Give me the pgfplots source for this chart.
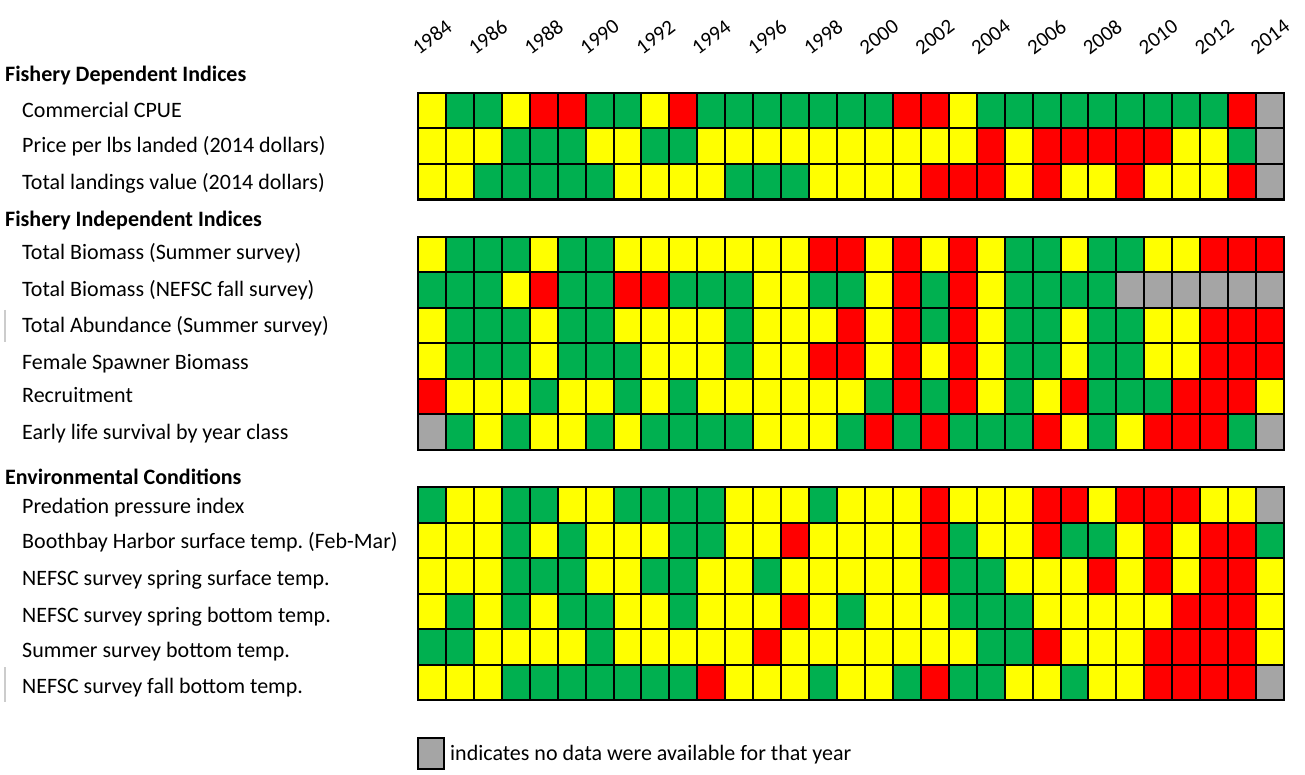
\documentclass[border=0pt]{standalone}
\usepackage{pgfplots}
\pgfplotsset{compat=1.18}
\usepackage{fontspec}
\setmainfont{Carlito}
\frenchspacing
\definecolor{cgray}{RGB}{165,165,165}
\pgfplotsset{
  hm/.style={
    scale only axis, width=866pt, xmin=1983.5, xmax=2014.5,
    y dir=reverse, anchor=north west, axis on top, clip=false,
    axis line style={black, line width=2.5pt},
    tick style={draw=none}, major tick length=0pt, minor tick length=0pt,
    xtick={1984,1986,...,2014}, xticklabels={},
    minor xtick={1984.5,1985.5,...,2013.5},
    xmajorgrids=false, ymajorgrids=false, xminorgrids=true, yminorgrids=true,
    minor grid style={black, line width=2pt},
    colormap={cat}{rgb255=(165,165,165) rgb255=(255,0,0) rgb255=(255,255,0) rgb255=(0,176,80)},
    colormap access=direct,
    point meta=explicit,
  },
  cells/.style={matrix plot, mesh/cols=31},
}
\begin{document}
\begin{tikzpicture}[x=1pt,y=1pt]
\useasboundingbox (0,0) rectangle (1305,774);
% ---------------- Fishery dependent ----------------
\begin{axis}[hm, at={(418pt,681pt)}, height=106.5pt, ymin=0.5, ymax=3.5,
  ytick={1,2,3}, yticklabels={}, minor ytick={1.5,2.5},
  xticklabels={1984,1986,1988,1990,1992,1994,1996,1998,2000,2002,2004,2006,2008,2010,2012,2014},
  xticklabel pos=upper,
  xticklabel style={font=\fontsize{21}{21}\selectfont, rotate=37, anchor=center, inner sep=0pt},
  xticklabel shift=56pt]
\addplot[cells] coordinates {
(1984,1)[2] (1985,1)[3] (1986,1)[3] (1987,1)[2] (1988,1)[1] (1989,1)[1] (1990,1)[3] (1991,1)[3] (1992,1)[2] (1993,1)[1] (1994,1)[3] (1995,1)[3] (1996,1)[3] (1997,1)[3] (1998,1)[3] (1999,1)[3] (2000,1)[3] (2001,1)[1] (2002,1)[1] (2003,1)[2] (2004,1)[3] (2005,1)[3] (2006,1)[3] (2007,1)[3] (2008,1)[3] (2009,1)[3] (2010,1)[3] (2011,1)[3] (2012,1)[3] (2013,1)[1] (2014,1)[0]
(1984,2)[2] (1985,2)[2] (1986,2)[2] (1987,2)[3] (1988,2)[3] (1989,2)[3] (1990,2)[2] (1991,2)[2] (1992,2)[3] (1993,2)[3] (1994,2)[2] (1995,2)[2] (1996,2)[2] (1997,2)[2] (1998,2)[2] (1999,2)[2] (2000,2)[2] (2001,2)[2] (2002,2)[2] (2003,2)[2] (2004,2)[1] (2005,2)[2] (2006,2)[1] (2007,2)[1] (2008,2)[1] (2009,2)[1] (2010,2)[1] (2011,2)[2] (2012,2)[2] (2013,2)[3] (2014,2)[0]
(1984,3)[2] (1985,3)[2] (1986,3)[3] (1987,3)[3] (1988,3)[3] (1989,3)[3] (1990,3)[3] (1991,3)[2] (1992,3)[2] (1993,3)[2] (1994,3)[2] (1995,3)[3] (1996,3)[3] (1997,3)[3] (1998,3)[2] (1999,3)[2] (2000,3)[2] (2001,3)[2] (2002,3)[1] (2003,3)[1] (2004,3)[1] (2005,3)[2] (2006,3)[1] (2007,3)[2] (2008,3)[2] (2009,3)[1] (2010,3)[2] (2011,3)[2] (2012,3)[2] (2013,3)[1] (2014,3)[0]
};
\end{axis}
% ---------------- Fishery independent ----------------
\begin{axis}[hm, at={(418pt,537pt)}, height=213pt, ymin=0.5, ymax=6.5,
  ytick={1,...,6}, yticklabels={}, minor ytick={1.5,2.5,3.5,4.5,5.5}]
\addplot[cells] coordinates {
(1984,1)[2] (1985,1)[3] (1986,1)[3] (1987,1)[3] (1988,1)[2] (1989,1)[3] (1990,1)[3] (1991,1)[2] (1992,1)[2] (1993,1)[2] (1994,1)[2] (1995,1)[2] (1996,1)[2] (1997,1)[2] (1998,1)[1] (1999,1)[1] (2000,1)[2] (2001,1)[1] (2002,1)[2] (2003,1)[1] (2004,1)[2] (2005,1)[3] (2006,1)[3] (2007,1)[2] (2008,1)[3] (2009,1)[3] (2010,1)[2] (2011,1)[2] (2012,1)[1] (2013,1)[1] (2014,1)[1]
(1984,2)[3] (1985,2)[3] (1986,2)[3] (1987,2)[2] (1988,2)[1] (1989,2)[3] (1990,2)[3] (1991,2)[1] (1992,2)[1] (1993,2)[3] (1994,2)[3] (1995,2)[3] (1996,2)[2] (1997,2)[2] (1998,2)[3] (1999,2)[3] (2000,2)[2] (2001,2)[1] (2002,2)[3] (2003,2)[1] (2004,2)[2] (2005,2)[3] (2006,2)[3] (2007,2)[3] (2008,2)[3] (2009,2)[0] (2010,2)[0] (2011,2)[0] (2012,2)[0] (2013,2)[0] (2014,2)[0]
(1984,3)[2] (1985,3)[3] (1986,3)[3] (1987,3)[3] (1988,3)[2] (1989,3)[3] (1990,3)[3] (1991,3)[2] (1992,3)[2] (1993,3)[2] (1994,3)[2] (1995,3)[3] (1996,3)[2] (1997,3)[2] (1998,3)[2] (1999,3)[1] (2000,3)[2] (2001,3)[1] (2002,3)[3] (2003,3)[1] (2004,3)[2] (2005,3)[3] (2006,3)[3] (2007,3)[2] (2008,3)[3] (2009,3)[3] (2010,3)[2] (2011,3)[2] (2012,3)[1] (2013,3)[1] (2014,3)[1]
(1984,4)[2] (1985,4)[3] (1986,4)[3] (1987,4)[3] (1988,4)[2] (1989,4)[3] (1990,4)[3] (1991,4)[3] (1992,4)[2] (1993,4)[2] (1994,4)[2] (1995,4)[3] (1996,4)[2] (1997,4)[2] (1998,4)[1] (1999,4)[1] (2000,4)[2] (2001,4)[1] (2002,4)[2] (2003,4)[1] (2004,4)[2] (2005,4)[3] (2006,4)[3] (2007,4)[2] (2008,4)[3] (2009,4)[3] (2010,4)[2] (2011,4)[2] (2012,4)[1] (2013,4)[1] (2014,4)[1]
(1984,5)[1] (1985,5)[2] (1986,5)[2] (1987,5)[2] (1988,5)[3] (1989,5)[2] (1990,5)[2] (1991,5)[3] (1992,5)[2] (1993,5)[3] (1994,5)[2] (1995,5)[2] (1996,5)[2] (1997,5)[2] (1998,5)[2] (1999,5)[2] (2000,5)[3] (2001,5)[1] (2002,5)[3] (2003,5)[1] (2004,5)[2] (2005,5)[3] (2006,5)[2] (2007,5)[1] (2008,5)[3] (2009,5)[3] (2010,5)[3] (2011,5)[1] (2012,5)[1] (2013,5)[1] (2014,5)[2]
(1984,6)[0] (1985,6)[3] (1986,6)[2] (1987,6)[3] (1988,6)[2] (1989,6)[2] (1990,6)[3] (1991,6)[2] (1992,6)[3] (1993,6)[3] (1994,6)[3] (1995,6)[3] (1996,6)[2] (1997,6)[2] (1998,6)[2] (1999,6)[3] (2000,6)[1] (2001,6)[3] (2002,6)[1] (2003,6)[3] (2004,6)[3] (2005,6)[3] (2006,6)[1] (2007,6)[2] (2008,6)[3] (2009,6)[2] (2010,6)[1] (2011,6)[1] (2012,6)[1] (2013,6)[3] (2014,6)[0]
};
\end{axis}
% ---------------- Environmental ----------------
\begin{axis}[hm, at={(418pt,287pt)}, height=213pt, ymin=0.5, ymax=6.5,
  ytick={1,...,6}, yticklabels={}, minor ytick={1.5,2.5,3.5,4.5,5.5}]
\addplot[cells] coordinates {
(1984,1)[3] (1985,1)[2] (1986,1)[2] (1987,1)[3] (1988,1)[3] (1989,1)[2] (1990,1)[2] (1991,1)[3] (1992,1)[3] (1993,1)[3] (1994,1)[3] (1995,1)[2] (1996,1)[2] (1997,1)[2] (1998,1)[3] (1999,1)[2] (2000,1)[2] (2001,1)[2] (2002,1)[1] (2003,1)[2] (2004,1)[2] (2005,1)[2] (2006,1)[1] (2007,1)[1] (2008,1)[2] (2009,1)[1] (2010,1)[1] (2011,1)[1] (2012,1)[2] (2013,1)[2] (2014,1)[0]
(1984,2)[2] (1985,2)[2] (1986,2)[2] (1987,2)[3] (1988,2)[2] (1989,2)[3] (1990,2)[2] (1991,2)[2] (1992,2)[2] (1993,2)[3] (1994,2)[3] (1995,2)[2] (1996,2)[2] (1997,2)[1] (1998,2)[2] (1999,2)[2] (2000,2)[2] (2001,2)[2] (2002,2)[1] (2003,2)[3] (2004,2)[2] (2005,2)[2] (2006,2)[1] (2007,2)[3] (2008,2)[3] (2009,2)[2] (2010,2)[1] (2011,2)[2] (2012,2)[1] (2013,2)[1] (2014,2)[3]
(1984,3)[2] (1985,3)[2] (1986,3)[2] (1987,3)[3] (1988,3)[3] (1989,3)[3] (1990,3)[2] (1991,3)[2] (1992,3)[3] (1993,3)[3] (1994,3)[2] (1995,3)[2] (1996,3)[3] (1997,3)[2] (1998,3)[2] (1999,3)[2] (2000,3)[2] (2001,3)[2] (2002,3)[1] (2003,3)[3] (2004,3)[3] (2005,3)[2] (2006,3)[2] (2007,3)[2] (2008,3)[1] (2009,3)[2] (2010,3)[1] (2011,3)[2] (2012,3)[1] (2013,3)[1] (2014,3)[2]
(1984,4)[2] (1985,4)[3] (1986,4)[2] (1987,4)[3] (1988,4)[2] (1989,4)[3] (1990,4)[3] (1991,4)[2] (1992,4)[2] (1993,4)[3] (1994,4)[2] (1995,4)[2] (1996,4)[2] (1997,4)[1] (1998,4)[2] (1999,4)[3] (2000,4)[2] (2001,4)[2] (2002,4)[2] (2003,4)[3] (2004,4)[3] (2005,4)[3] (2006,4)[2] (2007,4)[2] (2008,4)[2] (2009,4)[2] (2010,4)[2] (2011,4)[1] (2012,4)[1] (2013,4)[1] (2014,4)[2]
(1984,5)[3] (1985,5)[3] (1986,5)[2] (1987,5)[2] (1988,5)[2] (1989,5)[2] (1990,5)[3] (1991,5)[2] (1992,5)[2] (1993,5)[2] (1994,5)[2] (1995,5)[2] (1996,5)[1] (1997,5)[2] (1998,5)[2] (1999,5)[2] (2000,5)[2] (2001,5)[2] (2002,5)[2] (2003,5)[2] (2004,5)[3] (2005,5)[3] (2006,5)[1] (2007,5)[2] (2008,5)[2] (2009,5)[2] (2010,5)[1] (2011,5)[1] (2012,5)[1] (2013,5)[1] (2014,5)[2]
(1984,6)[2] (1985,6)[2] (1986,6)[2] (1987,6)[3] (1988,6)[3] (1989,6)[3] (1990,6)[3] (1991,6)[3] (1992,6)[3] (1993,6)[3] (1994,6)[1] (1995,6)[2] (1996,6)[2] (1997,6)[2] (1998,6)[3] (1999,6)[2] (2000,6)[2] (2001,6)[3] (2002,6)[1] (2003,6)[3] (2004,6)[3] (2005,6)[2] (2006,6)[2] (2007,6)[3] (2008,6)[2] (2009,6)[2] (2010,6)[1] (2011,6)[1] (2012,6)[1] (2013,6)[1] (2014,6)[0]
};
\end{axis}
% ---------------- row labels ----------------
\begin{scope}[every node/.style={anchor=west, inner sep=0pt, font=\fontsize{22}{24}\selectfont, text height=15pt, text depth=5pt}]
\node[font=\fontsize{22}{24}\selectfont\bfseries] at (5,697) {Fishery Dependent Indices};
\node at (22,661) {Commercial CPUE};
\node at (22,626) {Price per lbs landed (2014 dollars)};
\node at (22,589) {Total landings value (2014 dollars)};
\node[font=\fontsize{22}{24}\selectfont\bfseries] at (5,552) {Fishery Independent Indices};
\node at (22,519) {Total Biomass (Summer survey)};
\node at (22,482) {Total Biomass (NEFSC fall survey)};
\node at (22,446) {Total Abundance (Summer survey)};
\node at (22,409) {Female Spawner Biomass};
\node at (22,376) {Recruitment};
\node at (22,339) {Early life survival by year class};
\node[font=\fontsize{22}{24}\selectfont\bfseries] at (5,294) {Environmental Conditions};
\node at (22,266) {Predation pressure index};
\node at (22,231) {Boothbay Harbor surface temp. (Feb-Mar)};
\node at (22,194) {NEFSC survey spring surface temp.};
\node at (22,157) {NEFSC survey spring bottom temp.};
\node at (22,122) {Summer survey bottom temp.};
\node at (22,86) {NEFSC survey fall bottom temp.};
\end{scope}
\draw[black!20, line width=1.5pt] (5,464) -- (5,432);
\draw[black!20, line width=1.5pt] (5,107) -- (5,72);
% ---------------- note ----------------
\filldraw[fill=cgray, draw=black, line width=2pt] (418,5) rectangle (444,36);
\node[anchor=west, inner sep=0pt, font=\fontsize{22}{24}\selectfont] at (450,19) {indicates no data were available for that year};
\end{tikzpicture}
\end{document}
